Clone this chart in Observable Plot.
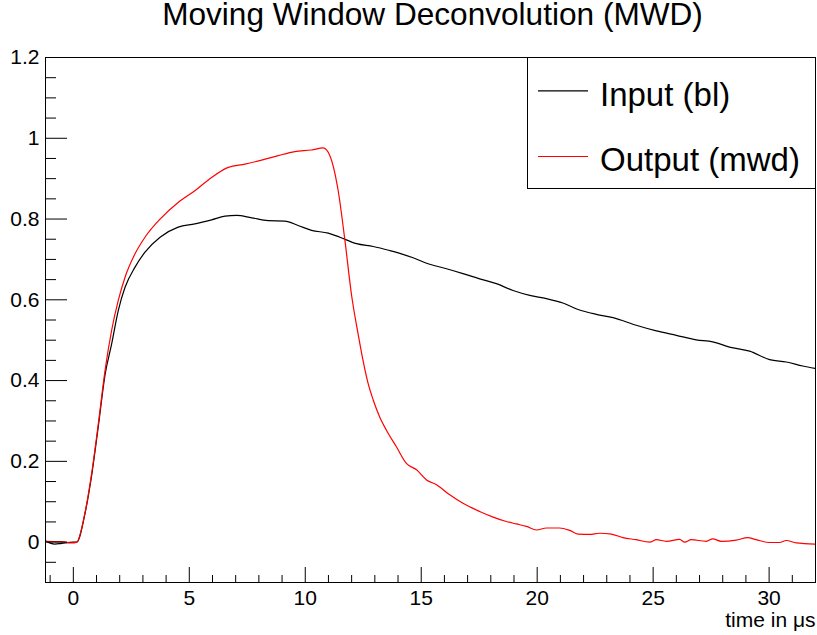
<!DOCTYPE html>
<html><head><meta charset="utf-8">
<script src="https://cdn.jsdelivr.net/npm/d3@7"></script>
<script src="https://cdn.jsdelivr.net/npm/@observablehq/plot@0.6"></script>
<style>
body{margin:0;background:#fff;}
#wrap{position:relative;width:817px;height:635px;font-family:'Liberation Sans',Arial,sans-serif;}
#legend{position:absolute;left:527px;top:57px;width:289px;height:132px;box-sizing:border-box;border:1px solid #000;background:#fff;}
#legend svg{position:absolute;left:0;top:0;}
</style></head><body><div id="wrap"></div>
<script>
const title = "Moving Window Deconvolution (MWD)";
const xLabel = "time in \u03bcs";
const seriesNames = ["Input (bl)", "Output (mwd)"];
const seriesColors = ["#000000", "#ff0000"];

const inputT = [-1.2, -0.8, -0.5, 0, 0.15, 0.5, 0.79, 1.08, 1.37, 1.65, 1.94, 2.23, 2.66, 3.09, 3.74, 4.52, 5.24, 5.96, 6.54, 7.04, 7.69, 8.40, 9.12, 9.69, 10.27, 10.99, 11.49, 12.21, 12.93, 13.64, 14.08, 14.65, 15.37, 16.09, 16.80, 17.52, 18.24, 18.96, 19.68, 20.40, 21.11, 21.76, 22.55, 23.27, 24.27, 25.14, 26.0, 26.86, 27.57, 28.29, 29.16, 30.02, 30.74, 31.45, 32];
const inputV = [0.003, -0.005, -0.003, 0.0, 0.0, 0.07, 0.165, 0.288, 0.415, 0.49, 0.574, 0.631, 0.681, 0.718, 0.755, 0.780, 0.788, 0.798, 0.807, 0.809, 0.803, 0.796, 0.795, 0.784, 0.772, 0.765, 0.755, 0.739, 0.732, 0.722, 0.715, 0.704, 0.688, 0.677, 0.665, 0.652, 0.640, 0.623, 0.611, 0.603, 0.592, 0.576, 0.564, 0.556, 0.537, 0.523, 0.512, 0.501, 0.496, 0.483, 0.473, 0.452, 0.446, 0.436, 0.430];

const outputT = [-1.2, -0.5, -0.07, 0.15, 0.5, 0.79, 1.08, 1.37, 1.65, 1.94, 2.23, 2.66, 3.09, 3.74, 4.52, 5.24, 5.96, 6.68, 7.40, 8.12, 8.83, 9.55, 10.27, 10.77, 11.06, 11.42, 11.71, 12.0, 12.28, 12.49, 12.71, 12.93, 13.21, 13.50, 13.93, 14.36, 14.80, 15.23, 15.66, 16.23, 16.80, 17.52, 18.10, 18.67, 19.10, 19.54, 19.97, 20.40, 20.97, 21.40, 21.76, 22.26, 22.69, 23.20, 23.70, 24.27, 24.85, 25.14, 25.57, 26.14, 26.36, 26.64, 27.29, 27.57, 27.94, 28.58, 29.08, 29.44, 30.02, 30.45, 30.74, 31.17, 32];
const outputV = [0.002, 0.001, -0.002, 0.0, 0.072, 0.17, 0.294, 0.426, 0.524, 0.599, 0.656, 0.714, 0.755, 0.800, 0.841, 0.870, 0.903, 0.928, 0.936, 0.946, 0.957, 0.967, 0.971, 0.976, 0.957, 0.870, 0.747, 0.610, 0.515, 0.450, 0.393, 0.352, 0.310, 0.277, 0.236, 0.195, 0.179, 0.154, 0.142, 0.117, 0.096, 0.076, 0.062, 0.051, 0.045, 0.039, 0.030, 0.035, 0.035, 0.029, 0.020, 0.019, 0.022, 0.020, 0.011, 0.006, 0.0, 0.006, 0.002, 0.007, 0.0, 0.006, 0.002, 0.008, 0.002, 0.005, 0.011, 0.006, -0.001, -0.001, 0.004, -0.002, -0.005];

const xTicks = [0, 5, 10, 15, 20, 25, 30];
const xTickLabels = ["0", "5", "10", "15", "20", "25", "30"];
const xMinorTicks = [-1, 1, 2, 3, 4, 6, 7, 8, 9, 11, 12, 13, 14, 16, 17, 18, 19, 21, 22, 23, 24, 26, 27, 28, 29, 31];
const yTicks = [0, 0.2, 0.4, 0.6, 0.8, 1, 1.2];
const yTickLabels = ["0", "0.2", "0.4", "0.6", "0.8", "1", "1.2"];
const yMinorTicks = [-0.05, 0.05, 0.1, 0.15, 0.25, 0.3, 0.35, 0.45, 0.5, 0.55, 0.65, 0.7, 0.75, 0.85, 0.9, 0.95, 1.05, 1.1, 1.15];

const input = inputT.map((t, i) => ({t, v: inputV[i], s: seriesNames[0]}));
const output = outputT.map((t, i) => ({t, v: outputV[i], s: seriesNames[1]}));

const W = 817, H = 635, mL = 45, mR = 2, mT = 57, mB = 53;
const fw = W - mL - mR, fh = H - mT - mB;

const plot = Plot.plot({
  width: W, height: H,
  marginLeft: mL, marginRight: mR, marginTop: mT, marginBottom: mB,
  x: {domain: [-1.2, 32]},
  y: {domain: [-0.1, 1.2]},
  style: {background: "#fff", color: "#000", fontFamily: "'Liberation Sans', Arial, sans-serif", overflow: "visible"},
  marks: [
    Plot.line(input, {x: "t", y: "v", stroke: seriesColors[0], strokeWidth: 1.2, curve: "monotone-x", clip: true}),
    Plot.line(output, {x: "t", y: "v", stroke: seriesColors[1], strokeWidth: 1.2, curve: "monotone-x", clip: true}),
    Plot.tickY(yTicks, {y: d => d, insetRight: fw - 22, stroke: "#000"}),
    Plot.tickY(yMinorTicks, {y: d => d, insetRight: fw - 11, stroke: "#000"}),
    Plot.tickX(xTicks, {x: d => d, insetTop: fh - 15, stroke: "#000"}),
    Plot.tickX(xMinorTicks, {x: d => d, insetTop: fh - 7, stroke: "#000"}),
    Plot.axisY({ticks: yTicks, tickSize: 0, tickPadding: 6, fontSize: 21, label: null,
      tickFormat: d => yTickLabels[yTicks.indexOf(d)]}),
    Plot.axisX({ticks: xTicks, tickSize: 0, tickPadding: 8, fontSize: 21, label: null,
      tickFormat: d => xTickLabels[xTicks.indexOf(d)]}),
    Plot.frame({stroke: "#000"}),
    Plot.text([xLabel], {text: d => d, frameAnchor: "bottom-right", textAnchor: "end", lineAnchor: "bottom", dy: 44, fontSize: 21, fill: "#000"}),
    Plot.text([title], {text: d => d, frameAnchor: "top", lineAnchor: "bottom", dy: -33, dx: 2, fontSize: 31.6, fill: "#000"})
  ]
});

const wrap = document.getElementById("wrap");
wrap.appendChild(plot);

// legend
const legend = document.createElement("div");
legend.id = "legend";
const ns = "http://www.w3.org/2000/svg";
const lsvg = document.createElementNS(ns, "svg");
lsvg.setAttribute("width", 287);
lsvg.setAttribute("height", 130);
const rows = [{y: 32.8, base: 47.5}, {y: 98.5, base: 113}];
seriesNames.forEach((name, i) => {
  const ln = document.createElementNS(ns, "line");
  ln.setAttribute("x1", 10); ln.setAttribute("x2", 60);
  ln.setAttribute("y1", rows[i].y); ln.setAttribute("y2", rows[i].y);
  ln.setAttribute("stroke", seriesColors[i]); ln.setAttribute("stroke-width", 1.2);
  lsvg.appendChild(ln);
  const tx = document.createElementNS(ns, "text");
  tx.setAttribute("x", 72); tx.setAttribute("y", rows[i].base);
  tx.setAttribute("font-size", 33);
  tx.setAttribute("font-family", "'Liberation Sans', Arial, sans-serif");
  tx.setAttribute("fill", "#000");
  tx.textContent = name;
  lsvg.appendChild(tx);
});
legend.appendChild(lsvg);
wrap.appendChild(legend);
</script>
</body></html>
